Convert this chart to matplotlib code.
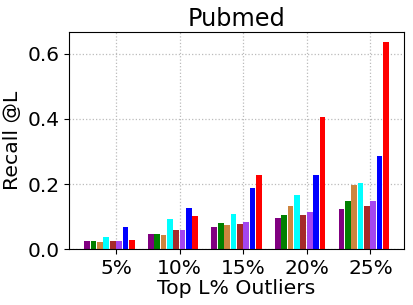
import numpy as np
import matplotlib
matplotlib.use("Agg")
import matplotlib.pyplot as plt

categories = ["5%", "10%", "15%", "20%", "25%"]
colors = ["purple", "green", "peru", "cyan", "brown", "#a346f0", "blue", "red"]

# recall @L for each method (one list per method, one value per category)
m1 = [0.025, 0.047, 0.069, 0.096, 0.124]
m2 = [0.025, 0.047, 0.081, 0.106, 0.149]
m3 = [0.022, 0.044, 0.075, 0.133, 0.198]
m4 = [0.038, 0.093, 0.109, 0.167, 0.204]
m5 = [0.025, 0.059, 0.078, 0.106, 0.133]
m6 = [0.025, 0.059, 0.084, 0.115, 0.149]
m7 = [0.068, 0.127, 0.189, 0.229, 0.287]
m8 = [0.029, 0.103, 0.229, 0.407, 0.635]
series = [m1, m2, m3, m4, m5, m6, m7, m8]


def main():
    fig = plt.figure(figsize=(4.14, 3.05), dpi=100)
    ax = fig.add_axes([0.167, 0.183, 0.809, 0.712])

    x = np.arange(len(categories))
    step = 0.1
    for i, (vals, c) in enumerate(zip(series, colors)):
        ax.bar(x + (i - 5) * step, vals, width=0.09, align="edge", color=c)

    ax.set_axisbelow(True)
    ax.grid(True, linestyle=":", color="#bbbbbb", linewidth=0.9)
    ax.set_xticks(x)
    ax.set_xticklabels(categories)
    ax.set_yticks([0.0, 0.2, 0.4, 0.6])
    ax.tick_params(labelsize=14.5)
    ax.set_xlabel("Top L% Outliers", fontsize=14.7, labelpad=1)
    ax.set_ylabel("Recall @L", fontsize=14.7)
    ax.set_title("Pubmed", fontsize=17.3, pad=4)

    fig.savefig("out.png", dpi=100)


if __name__ == '__main__':
    main()
